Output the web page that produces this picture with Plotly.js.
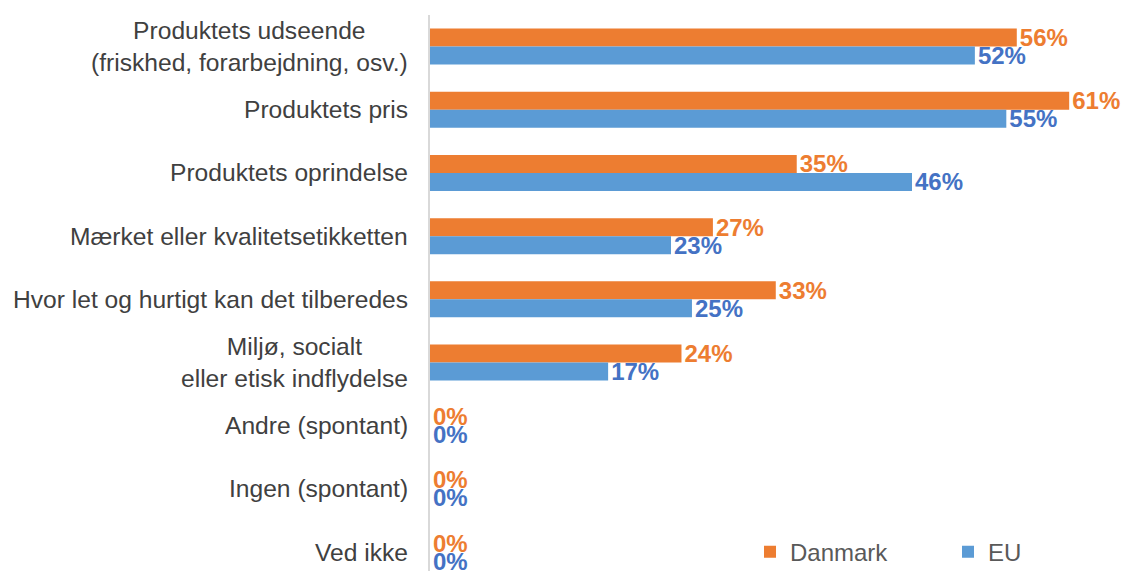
<!DOCTYPE html>
<html>
<head>
<meta charset="utf-8">
<script src="https://cdn.plot.ly/plotly-3.0.1.min.js"></script>
<style>html,body{margin:0;padding:0;background:#fff;}#chart{width:1131px;height:571px;}</style>
</head>
<body>
<div id="chart"></div>
<script>
const categories = [
  "Produktets udseende<br>(friskhed, forarbejdning, osv.)",
  "Produktets pris",
  "Produktets oprindelse",
  "Mærket eller kvalitetsetikketten",
  "Hvor let og hurtigt kan det tilberedes",
  "Miljø, socialt<br>eller etisk indflydelse",
  "Andre (spontant)",
  "Ingen (spontant)",
  "Ved ikke"
];
const danmark = [56, 61, 35, 27, 33, 24, 0, 0, 0];
const eu = [52, 55, 46, 23, 25, 17, 0, 0, 0];
const seriesNames = ["Danmark", "EU"];

const font = "Liberation Sans, Arial, sans-serif";
const idx = categories.map((c, i) => i);

const traces = [
  {type: 'bar', orientation: 'h', name: seriesNames[0], y: idx, x: danmark,
   marker: {color: '#ED7D31'}, text: danmark.map(v => v + '%'), textposition: 'outside',
   constraintext: 'none',
   textfont: {family: font, size: 24, color: '#ED7D31', weight: 'bold'}, cliponaxis: false, hoverinfo: 'x+name'},
  {type: 'bar', orientation: 'h', name: seriesNames[1], y: idx, x: eu,
   marker: {color: '#5B9BD5'}, text: eu.map(v => v + '%'), textposition: 'outside',
   constraintext: 'none',
   textfont: {family: font, size: 24, color: '#4472C4', weight: 'bold'}, cliponaxis: false, hoverinfo: 'x+name'}
];

const annotations = categories.map((c, i) => ({
  xref: 'paper', yref: 'y', x: 0, y: i, xanchor: 'right', yanchor: 'middle',
  xshift: -20, text: c, showarrow: false, align: 'center',
  font: {family: font, size: 24.6, color: '#404040'}
}));

const layout = {
  width: 1131, height: 571,
  margin: {l: 430, r: 0, t: 15, b: 0, autoexpand: false},
  paper_bgcolor: '#fff', plot_bgcolor: '#fff',
  barmode: 'group', bargap: 0.43, bargroupgap: 0,
  xaxis: {range: [0, 66.9], showgrid: false, zeroline: false, showticklabels: false, showline: false, fixedrange: true},
  yaxis: {range: [8.3, -0.5], showgrid: false, zeroline: false, showticklabels: false,
          showline: true, linecolor: '#D9D9D9', linewidth: 2, ticks: '', fixedrange: true},
  showlegend: true,
  legend: {orientation: 'h', x: 0.4565, xanchor: 'left', y: 0.034, yanchor: 'middle',
           font: {family: font, size: 24, color: '#595959'}, entrywidth: 153, bgcolor: 'rgba(0,0,0,0)'},
  annotations: annotations
};

Plotly.newPlot('chart', traces, layout, {displayModeBar: false, staticPlot: true});
</script>
</body>
</html>
